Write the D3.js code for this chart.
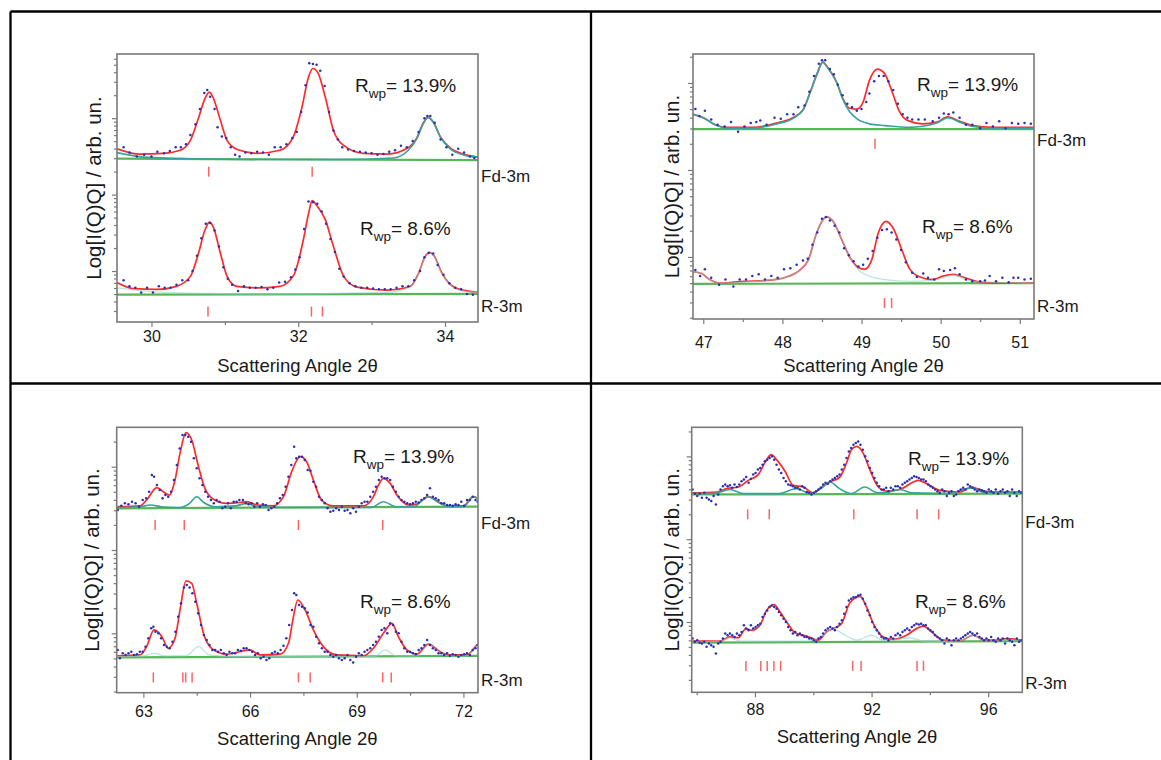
<!DOCTYPE html>
<html>
<head>
<meta charset="utf-8">
<script src="https://cdn.jsdelivr.net/npm/d3@7"></script>
<style>
  body { margin: 0; background: #fff; }
  svg text { font-family: "Liberation Sans", Arial, sans-serif; fill: #1a1a1a; }
</style>
</head>
<body>
<svg id="fig" width="1161" height="760"></svg>
<script>
// ---- shared labels ----
const phaseNames = ["Fd-3m", "R-3m"];
const rwpValues = ["13.9%", "8.6%"];

// ---- x ticks (2theta) ----
const xTicksTL = [30, 32, 34];
const xMinorTL = [31, 33];
const xTicksTR = [47, 48, 49, 50, 51];
const xMinorTR = [47.5, 48.5, 49.5, 50.5];
const xTicksBL = [63, 66, 69, 72];
const xMinorBL = [64.5, 67.5, 70.5];
const xTicksBR = [88, 92, 96];
const xMinorBR = [86, 90, 94];

// ---- reflection positions ----
const tlFdRefl = [30.78, 32.19];
const tlRRefl = [30.77, 32.18, 32.33];
const trFdRefl = [49.17];
const trRRefl = [49.29, 49.38];
const blFdRefl = [63.33, 64.15, 67.36, 69.73];
const blRRefl = [63.28, 64.11, 64.19, 64.37, 67.36, 67.69, 69.73, 69.97];
const brFdRefl = [87.75, 88.49, 91.39, 93.56, 94.30];
const brRRefl = [87.69, 88.20, 88.42, 88.65, 88.88, 91.35, 91.64, 93.56, 93.78];

// ---- intensities, log10 decades (arb.) ----
// top-left, 29.5-34.5
const tlFdCalc = [[29.53,1.60],[29.84,1.53],[30.16,1.54],[30.39,1.58],[30.53,1.71],[30.64,2.00],[30.73,2.26],[30.79,2.34],[30.84,2.27],[30.94,1.97],[31.03,1.71],[31.17,1.59],[31.44,1.54],[31.75,1.58],[31.93,1.75],[32.05,2.14],[32.14,2.54],[32.20,2.65],[32.27,2.59],[32.37,2.27],[32.48,1.84],[32.61,1.65],[32.89,1.54],[33.21,1.53],[33.49,1.61],[33.62,1.75],[33.70,1.93],[33.77,2.01],[33.84,1.95],[33.94,1.75],[34.07,1.61],[34.25,1.53],[34.45,1.49]];
const tlFdPhase = [[29.53,1.55],[29.9,1.49],[30.5,1.47],[31.5,1.46],[32.5,1.46],[33.3,1.48],[33.5,1.58],[33.62,1.74],[33.7,1.92],[33.77,2.01],[33.84,1.95],[33.94,1.75],[34.07,1.60],[34.25,1.52],[34.45,1.49]];
const tlFdBase = [[29.53,1.47],[34.45,1.45]];
const tlFdObs = [[29.62,1.62],[29.7,1.55],[29.8,1.50],[29.9,1.52],[30.0,1.50],[30.08,1.56],[30.17,1.54],[30.25,1.57],[30.33,1.62],[30.4,1.62],[30.47,1.66],[30.53,1.78],[30.6,1.92],[30.66,2.12],[30.72,2.33],[30.76,2.37],[30.8,2.28],[30.86,2.12],[30.9,1.88],[30.96,1.76],[31.02,1.74],[31.08,1.62],[31.14,1.52],[31.2,1.50],[31.28,1.55],[31.36,1.54],[31.44,1.56],[31.52,1.55],[31.6,1.52],[31.68,1.62],[31.76,1.62],[31.84,1.66],[31.92,1.74],[31.98,1.82],[32.04,2.08],[32.1,2.43],[32.15,2.72],[32.2,2.71],[32.25,2.70],[32.3,2.62],[32.36,2.42],[32.42,2.08],[32.48,1.84],[32.54,1.72],[32.6,1.62],[32.68,1.59],[32.76,1.57],[32.84,1.56],[32.92,1.55],[33.0,1.54],[33.08,1.52],[33.16,1.53],[33.24,1.56],[33.32,1.58],[33.4,1.64],[33.48,1.62],[33.56,1.70],[33.64,1.82],[33.72,2.00],[33.76,2.03],[33.8,2.03],[33.86,1.94],[33.94,1.72],[34.02,1.62],[34.1,1.52],[34.18,1.60],[34.26,1.55],[34.34,1.50],[34.4,1.48]];

const tlRCalc = [[29.53,-0.15],[29.75,-0.23],[30.07,-0.24],[30.34,-0.20],[30.53,-0.07],[30.64,0.23],[30.73,0.54],[30.79,0.64],[30.84,0.58],[30.94,0.23],[31.03,-0.07],[31.16,-0.20],[31.44,-0.22],[31.75,-0.20],[31.94,-0.05],[32.07,0.41],[32.14,0.75],[32.19,0.92],[32.25,0.86],[32.37,0.67],[32.48,0.32],[32.62,-0.07],[32.80,-0.21],[33.21,-0.25],[33.53,-0.20],[33.64,-0.03],[33.73,0.19],[33.79,0.24],[33.85,0.20],[33.96,-0.03],[34.12,-0.21],[34.30,-0.26],[34.45,-0.28]];
const tlRPhase = [[29.53,-0.22],[30.0,-0.27],[30.5,-0.29],[31.5,-0.30],[33.2,-0.28],[33.53,-0.21],[33.64,-0.04],[33.73,0.18],[33.79,0.23],[33.85,0.19],[33.96,-0.04],[34.12,-0.22],[34.3,-0.27],[34.45,-0.28]];
const tlRBase = [[29.53,-0.31],[34.45,-0.30]];
const tlRObs = [[29.62,-0.12],[29.7,-0.20],[29.78,-0.22],[29.86,-0.28],[29.94,-0.22],[30.02,-0.28],[30.1,-0.20],[30.18,-0.22],[30.26,-0.22],[30.34,-0.18],[30.42,-0.12],[30.5,-0.12],[30.56,0.0],[30.62,0.2],[30.68,0.43],[30.74,0.62],[30.8,0.63],[30.86,0.53],[30.92,0.32],[30.98,0.05],[31.04,-0.1],[31.1,-0.18],[31.18,-0.26],[31.26,-0.20],[31.34,-0.22],[31.42,-0.22],[31.5,-0.21],[31.58,-0.24],[31.66,-0.22],[31.74,-0.15],[31.82,-0.14],[31.9,-0.08],[31.96,0.02],[32.02,0.18],[32.08,0.55],[32.14,0.91],[32.2,0.9],[32.26,0.88],[32.32,0.78],[32.38,0.62],[32.44,0.42],[32.5,0.25],[32.56,0.03],[32.62,-0.07],[32.7,-0.16],[32.78,-0.2],[32.86,-0.22],[32.94,-0.22],[33.02,-0.23],[33.1,-0.24],[33.18,-0.24],[33.26,-0.24],[33.34,-0.22],[33.42,-0.2],[33.5,-0.2],[33.58,-0.12],[33.66,0.0],[33.72,0.18],[33.78,0.24],[33.84,0.23],[33.9,0.08],[33.98,-0.05],[34.06,-0.16],[34.14,-0.22],[34.22,-0.24],[34.3,-0.3],[34.38,-0.31]];

// top-right, 47-51
const trFdCalc = [[46.87,1.64],[47.00,1.60],[47.15,1.52],[47.30,1.49],[47.63,1.49],[47.93,1.54],[48.13,1.60],[48.26,1.69],[48.35,1.89],[48.44,2.11],[48.51,2.24],[48.57,2.18],[48.69,2.00],[48.76,1.83],[48.85,1.71],[48.94,1.70],[49.02,1.78],[49.10,2.03],[49.20,2.16],[49.29,2.11],[49.39,1.89],[49.48,1.67],[49.58,1.57],[49.77,1.53],[49.95,1.55],[50.09,1.61],[50.24,1.56],[50.41,1.51],[50.66,1.49],[51.18,1.49]];
const trFdPhase = [[46.87,1.64],[47.0,1.60],[47.15,1.52],[47.3,1.48],[47.63,1.48],[47.93,1.53],[48.13,1.59],[48.26,1.69],[48.35,1.89],[48.44,2.11],[48.51,2.24],[48.57,2.18],[48.69,2.00],[48.76,1.82],[48.85,1.67],[48.94,1.59],[49.1,1.53],[49.3,1.51],[49.6,1.49],[49.95,1.54],[50.09,1.60],[50.24,1.55],[50.41,1.50],[50.66,1.48],[51.18,1.48]];
const trFdBase = [[46.87,1.47],[51.18,1.47]];
const trFdObs = [[46.9,1.70],[46.95,1.62],[47.02,1.68],[47.1,1.58],[47.18,1.52],[47.27,1.50],[47.35,1.55],[47.44,1.44],[47.52,1.50],[47.6,1.54],[47.67,1.55],[47.72,1.57],[47.8,1.52],[47.9,1.60],[47.98,1.59],[48.06,1.64],[48.14,1.64],[48.2,1.72],[48.28,1.74],[48.34,1.90],[48.4,2.08],[48.46,2.22],[48.5,2.26],[48.54,2.26],[48.6,2.16],[48.65,2.10],[48.7,1.98],[48.76,1.86],[48.82,1.76],[48.88,1.72],[48.94,1.68],[49.0,1.70],[49.06,1.78],[49.1,1.88],[49.16,2.02],[49.22,2.08],[49.28,2.08],[49.34,2.02],[49.4,1.92],[49.46,1.76],[49.52,1.64],[49.58,1.60],[49.64,1.58],[49.72,1.58],[49.8,1.58],[49.9,1.56],[49.98,1.60],[50.04,1.65],[50.1,1.64],[50.16,1.66],[50.24,1.60],[50.32,1.52],[50.4,1.52],[50.5,1.48],[50.58,1.54],[50.66,1.50],[50.74,1.56],[50.82,1.48],[50.9,1.54],[50.98,1.53],[51.06,1.54],[51.14,1.53]];

const trRCalc = [[46.87,-0.17],[46.98,-0.19],[47.08,-0.26],[47.21,-0.30],[47.51,-0.28],[47.80,-0.27],[48.05,-0.23],[48.22,-0.15],[48.33,-0.03],[48.43,0.27],[48.56,0.46],[48.64,0.41],[48.75,0.20],[48.85,0.00],[48.96,-0.12],[49.04,-0.14],[49.13,-0.03],[49.21,0.27],[49.31,0.41],[49.40,0.33],[49.51,0.08],[49.61,-0.14],[49.74,-0.23],[49.90,-0.26],[50.03,-0.22],[50.16,-0.20],[50.28,-0.23],[50.45,-0.28],[50.66,-0.30],[51.18,-0.30]];
const trRPhase = [[46.87,-0.17],[46.98,-0.19],[47.08,-0.26],[47.21,-0.30],[47.51,-0.29],[47.8,-0.27],[48.05,-0.23],[48.22,-0.15],[48.33,-0.03],[48.43,0.27],[48.56,0.46],[48.64,0.41],[48.75,0.2],[48.85,0.0],[48.96,-0.15],[49.1,-0.22],[49.3,-0.26],[49.6,-0.28],[49.9,-0.27],[50.16,-0.21],[50.4,-0.28],[51.18,-0.30]];
const trRBase = [[46.87,-0.31],[51.18,-0.30]];
const trRObs = [[46.9,-0.15],[46.96,-0.22],[47.02,-0.14],[47.1,-0.24],[47.2,-0.32],[47.28,-0.26],[47.38,-0.34],[47.46,-0.26],[47.54,-0.26],[47.62,-0.22],[47.7,-0.2],[47.78,-0.26],[47.86,-0.22],[47.94,-0.24],[48.02,-0.14],[48.1,-0.13],[48.18,-0.09],[48.26,-0.04],[48.32,-0.02],[48.38,0.14],[48.44,0.28],[48.5,0.44],[48.55,0.46],[48.6,0.42],[48.66,0.36],[48.72,0.28],[48.78,0.1],[48.84,0.02],[48.9,-0.05],[48.96,-0.11],[49.02,-0.09],[49.08,-0.02],[49.14,0.07],[49.2,0.22],[49.26,0.31],[49.32,0.32],[49.38,0.28],[49.44,0.2],[49.5,0.08],[49.56,-0.06],[49.64,-0.18],[49.7,-0.23],[49.78,-0.19],[49.84,-0.24],[49.92,-0.26],[49.98,-0.14],[50.04,-0.16],[50.12,-0.15],[50.18,-0.13],[50.24,-0.2],[50.32,-0.26],[50.4,-0.28],[50.5,-0.28],[50.56,-0.27],[50.62,-0.22],[50.7,-0.28],[50.78,-0.24],[50.86,-0.29],[50.92,-0.24],[50.98,-0.24],[51.06,-0.26],[51.14,-0.25]];

// bottom-left, 62-72
const blFdCalc = [[62.27,1.52],[62.91,1.53],[63.09,1.60],[63.38,1.75],[63.56,1.70],[63.73,1.66],[63.89,1.84],[64.03,2.16],[64.20,2.41],[64.36,2.32],[64.55,2.00],[64.73,1.74],[64.97,1.61],[65.34,1.56],[65.72,1.57],[65.91,1.58],[66.19,1.54],[66.65,1.53],[66.94,1.64],[67.17,1.94],[67.41,2.12],[67.59,2.06],[67.78,1.84],[68.01,1.60],[68.34,1.53],[69.19,1.53],[69.47,1.64],[69.61,1.78],[69.75,1.86],[69.94,1.80],[70.13,1.66],[70.45,1.54],[70.69,1.55],[71.01,1.64],[71.30,1.58],[71.53,1.53],[72.00,1.53],[72.28,1.64],[72.41,1.62]];
const blFdPhase = [[62.25,1.51],[62.9,1.52],[63.2,1.54],[63.5,1.52],[64.0,1.51],[64.3,1.56],[64.5,1.64],[64.7,1.57],[65.0,1.52],[65.6,1.53],[65.9,1.56],[66.2,1.52],[67.0,1.51],[69.4,1.51],[69.75,1.58],[70.1,1.52],[70.6,1.52],[71.0,1.64],[71.3,1.57],[71.6,1.52],[72.0,1.52],[72.28,1.64],[72.41,1.62]];
const blFdBase = [[62.25,1.50],[72.41,1.52]];
const blFdObs = [[62.28,1.48],[62.38,1.53],[62.48,1.56],[62.58,1.55],[62.68,1.58],[62.78,1.56],[62.88,1.52],[62.98,1.60],[63.08,1.62],[63.16,1.70],[63.24,1.90],[63.3,1.88],[63.38,1.78],[63.46,1.72],[63.54,1.62],[63.62,1.66],[63.7,1.64],[63.78,1.70],[63.86,1.84],[63.94,2.02],[64.02,2.22],[64.1,2.38],[64.18,2.38],[64.26,2.36],[64.34,2.3],[64.42,2.1],[64.5,1.98],[64.58,1.86],[64.66,1.78],[64.74,1.7],[64.82,1.64],[64.9,1.6],[64.98,1.56],[65.06,1.6],[65.14,1.58],[65.22,1.5],[65.3,1.52],[65.38,1.56],[65.46,1.5],[65.54,1.58],[65.62,1.58],[65.7,1.6],[65.8,1.6],[65.88,1.56],[65.96,1.55],[66.04,1.56],[66.12,1.52],[66.2,1.56],[66.28,1.52],[66.36,1.55],[66.44,1.54],[66.52,1.48],[66.6,1.5],[66.68,1.52],[66.76,1.56],[66.84,1.62],[66.92,1.66],[67.0,1.76],[67.08,1.88],[67.16,2.02],[67.24,2.24],[67.3,2.1],[67.38,2.12],[67.46,2.12],[67.54,2.08],[67.62,1.96],[67.7,1.95],[67.78,1.82],[67.86,1.76],[67.94,1.64],[68.02,1.6],[68.1,1.56],[68.18,1.5],[68.26,1.46],[68.34,1.47],[68.42,1.5],[68.5,1.48],[68.58,1.52],[68.66,1.47],[68.74,1.48],[68.82,1.44],[68.9,1.5],[68.98,1.46],[69.06,1.52],[69.14,1.56],[69.22,1.58],[69.3,1.58],[69.38,1.64],[69.46,1.7],[69.54,1.76],[69.62,1.84],[69.7,1.88],[69.78,1.86],[69.86,1.86],[69.94,1.84],[70.02,1.76],[70.1,1.7],[70.18,1.64],[70.26,1.6],[70.34,1.58],[70.42,1.56],[70.5,1.55],[70.58,1.56],[70.66,1.58],[70.74,1.57],[70.82,1.6],[70.9,1.62],[70.98,1.66],[71.06,1.74],[71.14,1.64],[71.22,1.62],[71.3,1.6],[71.38,1.56],[71.46,1.56],[71.54,1.54],[71.62,1.54],[71.7,1.53],[71.78,1.55],[71.86,1.54],[71.94,1.58],[72.02,1.53],[72.1,1.6],[72.18,1.6],[72.26,1.64],[72.34,1.6],[72.4,1.58]];

const blRCalc = [[62.27,-0.27],[62.91,-0.26],[63.09,-0.16],[63.30,0.04],[63.52,-0.04],[63.70,-0.18],[63.89,-0.06],[64.03,0.28],[64.20,0.63],[64.36,0.60],[64.50,0.36],[64.69,0.00],[64.92,-0.18],[65.34,-0.25],[66.00,-0.20],[66.28,-0.26],[66.85,-0.25],[67.08,-0.12],[67.22,0.20],[67.34,0.40],[67.55,0.28],[67.78,0.04],[68.06,-0.16],[68.44,-0.26],[69.19,-0.27],[69.47,-0.18],[69.75,0.00],[69.99,0.12],[70.17,-0.04],[70.41,-0.20],[70.69,-0.25],[71.02,-0.13],[71.34,-0.22],[71.63,-0.26],[72.10,-0.26],[72.38,-0.14],[72.41,-0.13]];
const blRPhase = [[62.25,-0.28],[63.0,-0.27],[63.3,-0.24],[63.6,-0.27],[64.2,-0.27],[64.55,-0.16],[64.85,-0.26],[65.5,-0.28],[69.5,-0.28],[69.8,-0.20],[70.1,-0.27],[70.7,-0.27],[71.02,-0.14],[71.34,-0.23],[71.7,-0.27],[72.1,-0.27],[72.38,-0.15],[72.41,-0.14]];
const blRBase = [[62.25,-0.29],[72.41,-0.27]];
const blRObs = [[62.28,-0.2],[62.34,-0.3],[62.42,-0.24],[62.5,-0.26],[62.58,-0.24],[62.66,-0.22],[62.74,-0.26],[62.82,-0.25],[62.9,-0.22],[62.98,-0.22],[63.06,-0.16],[63.14,-0.06],[63.22,0.06],[63.28,0.08],[63.34,0.02],[63.42,0.0],[63.5,-0.06],[63.58,-0.14],[63.66,-0.16],[63.74,-0.18],[63.82,-0.1],[63.9,0.02],[63.98,0.2],[64.06,0.36],[64.14,0.55],[64.22,0.58],[64.3,0.55],[64.38,0.48],[64.46,0.38],[64.54,0.24],[64.62,0.1],[64.7,-0.02],[64.78,-0.08],[64.86,-0.14],[64.94,-0.2],[65.02,-0.2],[65.1,-0.22],[65.18,-0.2],[65.26,-0.24],[65.34,-0.26],[65.42,-0.22],[65.5,-0.24],[65.58,-0.24],[65.66,-0.2],[65.74,-0.21],[65.82,-0.18],[65.9,-0.18],[65.98,-0.2],[66.06,-0.22],[66.14,-0.26],[66.22,-0.24],[66.3,-0.3],[66.38,-0.28],[66.46,-0.32],[66.54,-0.3],[66.62,-0.24],[66.7,-0.22],[66.78,-0.24],[66.86,-0.2],[66.94,-0.15],[67.02,-0.06],[67.1,0.1],[67.18,0.28],[67.24,0.48],[67.3,0.46],[67.38,0.34],[67.46,0.32],[67.54,0.3],[67.62,0.25],[67.7,0.1],[67.78,0.08],[67.86,-0.04],[67.94,-0.12],[68.02,-0.18],[68.1,-0.22],[68.18,-0.22],[68.26,-0.26],[68.34,-0.28],[68.42,-0.26],[68.5,-0.3],[68.58,-0.32],[68.66,-0.3],[68.74,-0.26],[68.82,-0.32],[68.9,-0.35],[68.98,-0.28],[69.06,-0.24],[69.14,-0.26],[69.22,-0.22],[69.3,-0.2],[69.38,-0.18],[69.46,-0.14],[69.54,-0.1],[69.62,-0.04],[69.7,0.04],[69.78,0.06],[69.86,0.0],[69.94,0.12],[70.02,0.1],[70.1,0.02],[70.18,0.0],[70.26,-0.1],[70.34,-0.18],[70.42,-0.22],[70.5,-0.22],[70.58,-0.24],[70.66,-0.25],[70.74,-0.2],[70.82,-0.18],[70.9,-0.14],[70.98,-0.08],[71.06,-0.14],[71.14,-0.18],[71.22,-0.2],[71.3,-0.24],[71.38,-0.24],[71.46,-0.26],[71.54,-0.24],[71.62,-0.27],[71.7,-0.25],[71.78,-0.26],[71.86,-0.28],[71.94,-0.26],[72.02,-0.25],[72.1,-0.24],[72.18,-0.26],[72.26,-0.2],[72.34,-0.18],[72.4,-0.14]];

// bottom-right, 86-97
const brFdCalc = [[85.85,1.56],[86.69,1.57],[87.03,1.61],[87.43,1.63],[87.77,1.71],[88.11,1.78],[88.40,1.96],[88.55,2.02],[88.74,1.96],[89.03,1.82],[89.31,1.65],[89.66,1.63],[90.00,1.56],[90.29,1.63],[90.57,1.69],[90.91,1.75],[91.14,1.92],[91.31,2.08],[91.49,2.12],[91.71,2.04],[91.94,1.84],[92.23,1.63],[92.51,1.58],[92.97,1.60],[93.43,1.69],[93.60,1.71],[93.89,1.67],[94.34,1.59],[95.03,1.57],[95.43,1.63],[95.83,1.58],[96.17,1.57],[97.17,1.57]];
const brFdPhase = [[85.83,1.55],[86.6,1.55],[87.14,1.60],[87.6,1.55],[88.8,1.55],[89.43,1.61],[89.9,1.55],[90.3,1.62],[90.57,1.69],[90.9,1.61],[91.3,1.55],[91.77,1.63],[92.2,1.56],[92.6,1.57],[92.97,1.60],[93.4,1.56],[94.6,1.55],[95.43,1.62],[95.9,1.56],[96.4,1.57],[97.17,1.56]];
const brFdBase = [[85.83,1.54],[97.17,1.55]];
const brFdObs = [[85.86,1.6],[85.94,1.55],[86.02,1.52],[86.1,1.55],[86.18,1.5],[86.26,1.56],[86.34,1.5],[86.42,1.48],[86.5,1.46],[86.58,1.52],[86.66,1.42],[86.74,1.54],[86.82,1.6],[86.9,1.64],[86.98,1.66],[87.06,1.64],[87.14,1.65],[87.22,1.62],[87.3,1.66],[87.38,1.63],[87.46,1.66],[87.54,1.7],[87.62,1.72],[87.7,1.75],[87.78,1.68],[87.86,1.73],[87.94,1.78],[88.02,1.8],[88.1,1.84],[88.18,1.86],[88.26,1.9],[88.34,1.94],[88.42,1.96],[88.5,1.98],[88.58,2.0],[88.66,1.96],[88.74,1.9],[88.82,1.84],[88.9,1.8],[88.98,1.74],[89.06,1.7],[89.14,1.66],[89.22,1.65],[89.3,1.64],[89.38,1.62],[89.46,1.62],[89.54,1.6],[89.62,1.64],[89.7,1.62],[89.78,1.57],[89.86,1.56],[89.94,1.54],[90.02,1.56],[90.1,1.58],[90.18,1.6],[90.26,1.62],[90.34,1.66],[90.42,1.68],[90.5,1.67],[90.58,1.7],[90.66,1.72],[90.74,1.74],[90.82,1.76],[90.9,1.78],[90.98,1.84],[91.06,1.9],[91.14,1.98],[91.22,2.06],[91.3,2.1],[91.38,2.14],[91.46,2.16],[91.54,2.18],[91.62,2.14],[91.7,2.08],[91.78,2.0],[91.86,1.94],[91.94,1.86],[92.02,1.8],[92.1,1.74],[92.18,1.68],[92.26,1.64],[92.34,1.6],[92.42,1.6],[92.5,1.62],[92.58,1.58],[92.66,1.62],[92.74,1.6],[92.82,1.64],[92.9,1.64],[92.98,1.62],[93.06,1.66],[93.14,1.68],[93.22,1.7],[93.3,1.72],[93.38,1.74],[93.46,1.76],[93.54,1.75],[93.62,1.74],[93.7,1.72],[93.78,1.72],[93.86,1.7],[93.94,1.66],[94.02,1.64],[94.1,1.62],[94.18,1.6],[94.26,1.58],[94.34,1.56],[94.42,1.6],[94.5,1.58],[94.58,1.52],[94.66,1.56],[94.74,1.58],[94.82,1.52],[94.9,1.54],[94.98,1.58],[95.06,1.6],[95.14,1.62],[95.22,1.6],[95.3,1.66],[95.38,1.64],[95.46,1.62],[95.54,1.6],[95.62,1.58],[95.7,1.6],[95.78,1.59],[95.86,1.58],[95.94,1.56],[96.02,1.6],[96.1,1.58],[96.18,1.56],[96.26,1.6],[96.34,1.55],[96.42,1.58],[96.5,1.6],[96.58,1.56],[96.66,1.58],[96.74,1.52],[96.82,1.6],[96.9,1.56],[96.98,1.52],[97.06,1.58],[97.14,1.56]];

const brRCalc = [[85.85,-0.23],[86.80,-0.23],[87.14,-0.18],[87.43,-0.19],[87.69,-0.08],[87.89,-0.10],[88.17,-0.04],[88.40,0.14],[88.65,0.21],[88.86,0.12],[89.09,0.00],[89.37,-0.13],[89.77,-0.17],[90.17,-0.22],[90.46,-0.12],[90.68,-0.08],[90.97,-0.02],[91.25,0.23],[91.60,0.31],[91.83,0.18],[92.06,-0.02],[92.40,-0.18],[92.74,-0.21],[93.20,-0.16],[93.54,-0.08],[93.77,-0.05],[94.06,-0.12],[94.46,-0.22],[95.03,-0.23],[95.48,-0.16],[95.89,-0.22],[96.29,-0.22],[96.63,-0.20],[97.17,-0.22]];
const brRPhase = [[85.83,-0.24],[86.8,-0.23],[87.14,-0.19],[87.5,-0.23],[89.8,-0.23],[90.3,-0.17],[90.68,-0.08],[91.0,-0.14],[91.5,-0.22],[92.0,-0.16],[92.4,-0.22],[92.9,-0.21],[93.3,-0.19],[93.8,-0.23],[95.0,-0.23],[95.48,-0.16],[95.9,-0.22],[97.17,-0.22]];
const brRBase = [[85.83,-0.25],[97.17,-0.23]];
const brRObs = [[85.86,-0.2],[85.94,-0.24],[86.02,-0.22],[86.1,-0.25],[86.18,-0.26],[86.26,-0.24],[86.34,-0.3],[86.42,-0.26],[86.5,-0.28],[86.58,-0.3],[86.66,-0.38],[86.74,-0.26],[86.82,-0.24],[86.9,-0.2],[86.98,-0.14],[87.06,-0.16],[87.14,-0.14],[87.22,-0.16],[87.3,-0.18],[87.38,-0.14],[87.46,-0.16],[87.54,-0.12],[87.62,-0.04],[87.7,-0.08],[87.78,-0.1],[87.86,-0.04],[87.94,-0.08],[88.02,-0.06],[88.1,-0.04],[88.18,-0.02],[88.26,0.06],[88.34,0.1],[88.42,0.14],[88.5,0.18],[88.58,0.2],[88.66,0.18],[88.74,0.16],[88.82,0.12],[88.9,0.08],[88.98,0.04],[89.06,0.0],[89.14,-0.06],[89.22,-0.1],[89.3,-0.14],[89.38,-0.12],[89.46,-0.16],[89.54,-0.14],[89.62,-0.16],[89.7,-0.18],[89.78,-0.18],[89.86,-0.2],[89.94,-0.2],[90.02,-0.22],[90.1,-0.24],[90.18,-0.2],[90.26,-0.18],[90.34,-0.14],[90.42,-0.1],[90.5,-0.08],[90.58,-0.06],[90.66,-0.08],[90.74,-0.1],[90.82,-0.06],[90.9,-0.02],[90.98,0.02],[91.06,0.1],[91.14,0.18],[91.22,0.26],[91.3,0.28],[91.38,0.3],[91.46,0.3],[91.54,0.32],[91.62,0.33],[91.7,0.28],[91.78,0.22],[91.86,0.14],[91.94,0.08],[92.02,0.0],[92.1,-0.06],[92.18,-0.1],[92.26,-0.14],[92.34,-0.18],[92.42,-0.2],[92.5,-0.2],[92.58,-0.22],[92.66,-0.18],[92.74,-0.2],[92.82,-0.16],[92.9,-0.14],[92.98,-0.16],[93.06,-0.12],[93.14,-0.1],[93.22,-0.08],[93.3,-0.1],[93.38,-0.06],[93.46,-0.04],[93.54,-0.02],[93.62,-0.03],[93.7,-0.02],[93.78,-0.04],[93.86,-0.04],[93.94,-0.08],[94.02,-0.1],[94.1,-0.12],[94.18,-0.16],[94.26,-0.18],[94.34,-0.2],[94.42,-0.22],[94.5,-0.26],[94.58,-0.2],[94.66,-0.22],[94.74,-0.28],[94.82,-0.22],[94.9,-0.2],[94.98,-0.22],[95.06,-0.2],[95.14,-0.18],[95.22,-0.16],[95.3,-0.14],[95.38,-0.12],[95.46,-0.14],[95.54,-0.16],[95.62,-0.14],[95.7,-0.18],[95.78,-0.2],[95.86,-0.22],[95.94,-0.2],[96.02,-0.22],[96.1,-0.18],[96.18,-0.22],[96.26,-0.24],[96.34,-0.2],[96.42,-0.22],[96.5,-0.2],[96.58,-0.26],[96.66,-0.2],[96.74,-0.22],[96.82,-0.24],[96.9,-0.28],[96.98,-0.2],[97.06,-0.24],[97.14,-0.22]];

// ---- layout ----
const panels = [
  {
    id: "tl", frame: { left: 117, top: 54, right: 478, bottom: 322 },
    xDomain: [29.53, 34.45], yDomain: [-0.667, 2.84],
    xTicks: xTicksTL, xMinor: xMinorTL, tickBase: 20, titleBase: 372, yLabelX: 93,
    patterns: [
      { obs: tlFdObs, calc: tlFdCalc, phase: tlFdPhase, base: tlFdBase, refl: tlFdRefl, labelY: 182, rwp: [355, 92] },
      { obs: tlRObs, calc: tlRCalc, phase: tlRPhase, base: tlRBase, refl: tlRRefl, labelY: 312, rwp: [360, 235] },
    ],
  },
  {
    id: "tr", frame: { left: 693, top: 54, right: 1034, bottom: 319 },
    xDomain: [46.87, 51.18], yDomain: [-0.713, 2.333],
    xTicks: xTicksTR, xMinor: xMinorTR, tickBase: 29, titleBase: 372, yLabelX: 671,
    patterns: [
      { obs: trFdObs, calc: trFdCalc, phase: trFdPhase, base: trFdBase, refl: trFdRefl, labelY: 146, rwp: [917, 91] },
      { obs: trRObs, calc: trRCalc, phase: trRPhase, base: trRBase, refl: trRRefl, labelY: 312, rwp: [922, 233] },
    ],
  },
  {
    id: "bl", frame: { left: 116.7, top: 427.3, right: 478, bottom: 692.7 },
    xDomain: [62.25, 72.41], yDomain: [-0.713, 2.473],
    xTicks: xTicksBL, xMinor: xMinorBL, tickBase: 24, titleBase: 745, yLabelX: 91,
    patterns: [
      { obs: blFdObs, calc: blFdCalc, phase: blFdPhase, base: blFdBase, refl: blFdRefl, labelY: 529, rwp: [353, 463] },
      { obs: blRObs, calc: blRCalc, phase: blRPhase, base: blRBase, refl: blRRefl, labelY: 686, rwp: [360, 608] },
    ],
  },
  {
    id: "br", frame: { left: 691.7, top: 427.3, right: 1022.3, bottom: 692.3 },
    xDomain: [85.83, 97.17], yDomain: [-0.849, 2.351],
    xTicks: xTicksBR, xMinor: xMinorBR, tickBase: 23, titleBase: 743, yLabelX: 671,
    patterns: [
      { obs: brFdObs, calc: brFdCalc, phase: brFdPhase, base: brFdBase, refl: brFdRefl, labelY: 528, rwp: [908, 465] },
      { obs: brRObs, calc: brRCalc, phase: brRPhase, base: brRBase, refl: brRRefl, labelY: 689, rwp: [915, 608] },
    ],
  },
];

// reflection tick level (decades) for upper / lower pattern
const reflLevel = [1.30, -0.53];
const tickFont = 16;

const svg = d3.select("#fig");

// table grid
const grid = [
  [10.5, 11.5, 1161, 11.5],
  [10.5, 11.5, 10.5, 760],
  [591, 11.5, 591, 760],
  [10.5, 383.5, 1161, 383.5],
];
svg.append("g")
  .selectAll("line")
  .data(grid)
  .join("line")
  .attr("x1", (d) => d[0]).attr("y1", (d) => d[1])
  .attr("x2", (d) => d[2]).attr("y2", (d) => d[3])
  .attr("stroke", "#000")
  .attr("stroke-width", 2.3);

panels.forEach(drawPanel);

function drawPanel(p) {
  const f = p.frame;
  const x = d3.scaleLinear().domain(p.xDomain).range([f.left, f.right]);
  const y = d3.scaleLinear().domain(p.yDomain).range([f.bottom, f.top]);
  const g = svg.append("g").attr("class", "panel-" + p.id);

  // clip
  g.append("clipPath").attr("id", "clip-" + p.id)
    .append("rect")
    .attr("x", f.left).attr("y", f.top)
    .attr("width", f.right - f.left).attr("height", f.bottom - f.top);

  // log-style y ticks: decades and 2..9 sub-ticks
  const major = [], minor = [];
  for (let d = Math.floor(p.yDomain[0]); d <= Math.ceil(p.yDomain[1]); d++) {
    for (let k = 1; k <= 9; k++) {
      const v = d + Math.log10(k);
      if (v < p.yDomain[0] || v > p.yDomain[1]) continue;
      (k === 1 ? major : minor).push(v);
    }
  }
  const axisStyle = (sel) => {
    sel.select(".domain").remove();
    sel.selectAll("line").attr("stroke", "#7a7a7a").attr("stroke-width", 1.2);
  };
  g.append("g").attr("transform", `translate(${f.left},0)`)
    .call(d3.axisLeft(y).tickValues(major).tickSize(5).tickFormat(""))
    .call(axisStyle);
  g.append("g").attr("transform", `translate(${f.left},0)`)
    .call(d3.axisLeft(y).tickValues(minor).tickSize(3).tickFormat(""))
    .call(axisStyle);

  // x axis
  g.append("g").attr("transform", `translate(0,${f.bottom})`)
    .call(d3.axisBottom(x).tickValues(p.xTicks).tickSize(5)
      .tickPadding(p.tickBase - 5 - 0.71 * tickFont).tickFormat(d3.format("d")))
    .call(axisStyle)
    .call((s) => s.attr("font-size", tickFont).attr("font-family", null)
      .selectAll("text").style("font-size", tickFont + "px").attr("fill", "#1a1a1a"));
  g.append("g").attr("transform", `translate(0,${f.bottom})`)
    .call(d3.axisBottom(x).tickValues(p.xMinor).tickSize(3).tickFormat(""))
    .call(axisStyle);

  // curves
  const line = d3.line()
    .x((d) => x(d[0]))
    .y((d) => y(d[1]))
    .curve(d3.curveMonotoneX);
  const plot = g.append("g").attr("clip-path", `url(#clip-${p.id})`);

  p.patterns.forEach((pat, i) => {
    plot.append("path").datum(pat.base)
      .attr("d", line).attr("fill", "none")
      .attr("stroke", "#58b558").attr("stroke-width", 2.2);
    plot.append("path").datum(pat.calc)
      .attr("d", line).attr("fill", "none")
      .attr("stroke", "#ff2a2a").attr("stroke-width", 1.7);
    plot.append("path").datum(pat.phase)
      .attr("d", line).attr("fill", "none")
      .attr("stroke", i === 0 ? "#37a39c" : "#8ad3cc")
      .attr("stroke-width", i === 0 ? 1.6 : 1.3)
      .attr("stroke-opacity", i === 0 ? 1 : 0.6);
    plot.append("g").selectAll("circle").data(pat.obs).join("circle")
      .attr("cx", (d) => x(d[0])).attr("cy", (d) => y(d[1]))
      .attr("r", 1.25).attr("fill", "#2b2fb5");

    // reflection markers
    g.append("g").selectAll("line").data(pat.refl).join("line")
      .attr("x1", (d) => x(d)).attr("x2", (d) => x(d))
      .attr("y1", y(reflLevel[i]) - 5).attr("y2", y(reflLevel[i]) + 5)
      .attr("stroke", "#ff6464").attr("stroke-width", 1.5);

    // phase name
    g.append("text")
      .attr("x", f.right + 3).attr("y", pat.labelY)
      .attr("font-size", 17)
      .text(phaseNames[i]);

    // R_wp
    const t = g.append("text")
      .attr("x", pat.rwp[0]).attr("y", pat.rwp[1])
      .attr("font-size", 19);
    t.append("tspan").text("R");
    t.append("tspan").attr("font-size", 13.5).attr("dy", 6).text("wp");
    t.append("tspan").attr("dy", -6).text("= " + rwpValues[i]);
  });

  // frame
  g.append("rect")
    .attr("x", f.left).attr("y", f.top)
    .attr("width", f.right - f.left).attr("height", f.bottom - f.top)
    .attr("fill", "none").attr("stroke", "#7a7a7a").attr("stroke-width", 1.6);

  // titles
  g.append("text")
    .attr("x", (f.left + f.right) / 2).attr("y", p.titleBase)
    .attr("text-anchor", "middle").attr("font-size", 18.5)
    .text("Scattering Angle 2\u03b8");
  g.append("text")
    .attr("transform", `translate(${p.yLabelX},${(f.top + f.bottom) / 2}) rotate(-90)`)
    .attr("text-anchor", "middle").attr("dominant-baseline", "central")
    .attr("font-size", 20.5)
    .text("Log[I(Q)Q] / arb. un.");
}
</script>
</body>
</html>
